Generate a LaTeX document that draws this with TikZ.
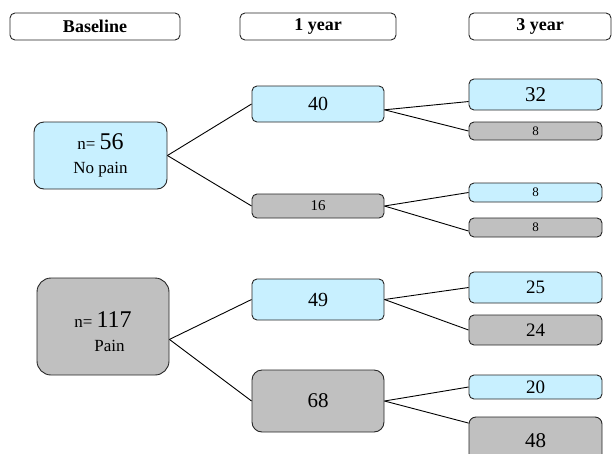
\documentclass[tikz,border=0pt]{standalone}
\usepackage{fontspec}
\setmainfont{Liberation Serif}
\definecolor{cyanfill}{RGB}{200,240,255}
\definecolor{grayfill}{RGB}{192,192,192}
\newcommand{\fs}[1]{\fontsize{#1}{#1}\selectfont}
\begin{document}
\begin{tikzpicture}[x=1pt,y=-1pt,
  box/.style={draw=black!85, line width=0.9pt, rounded corners=5pt, inner sep=0pt, anchor=center, align=center},
  cyanbox/.style={box, fill=cyanfill},
  graybox/.style={box, fill=grayfill},
  head/.style={box, fill=white, font=\bfseries\fs{18}},
  twoline/.style={align=center, font=\fontsize{17}{24}\selectfont},
  link/.style={draw=black, line width=0.9pt}]
\useasboundingbox (0,0) rectangle (613,453);
\clip (0,0) rectangle (613,453);

% headers
\node[head, minimum width=170pt, minimum height=27pt] (hb) at (95,26.5) {Baseline};
\node[head, minimum width=156pt, minimum height=27pt] (h1) at (318,26.5) {1 year};
\node[head, minimum width=142pt, minimum height=27pt] (h3) at (540,26.5) {3 year};

% baseline
\node[cyanbox, twoline, rounded corners=10pt, minimum width=133pt, minimum height=67pt] (nopain) at (100.5,155.5)
  {{\fontsize{17}{24}\selectfont n= }{\fontsize{24}{24}\selectfont 56}\\No pain};
\node[graybox, rounded corners=14pt, minimum width=132pt, minimum height=97pt,
  label={[twoline, yshift=-5pt, inner sep=0pt]center:{{\fontsize{17}{23}\selectfont n= }{\fontsize{24}{23}\selectfont 117}\\\hspace*{13pt}Pain}}] (pain) at (103,326.5) {};

% 1 year
\node[cyanbox, minimum width=132pt, minimum height=36pt, font=\fs{20}] (n40) at (318,104) {40};
\node[graybox, minimum width=132pt, minimum height=24pt, font=\fs{15}] (n16) at (318,206) {16};
\node[cyanbox, minimum width=132pt, minimum height=41pt, font=\fs{20}] (n49) at (318,299.5) {49};
\node[graybox, rounded corners=10pt, minimum width=132pt, minimum height=62pt, font=\fs{21}] (n68) at (318,401) {68};

% 3 year
\node[cyanbox, minimum width=133pt, minimum height=31pt, font=\fs{21}] (n32) at (535.5,94.5) {32};
\node[graybox, minimum width=133pt, minimum height=18pt, font=\fs{13}] (n8a) at (535.5,131) {8};
\node[cyanbox, minimum width=133pt, minimum height=19pt, font=\fs{13}] (n8b) at (535.5,192.5) {8};
\node[graybox, minimum width=133pt, minimum height=19pt, font=\fs{13}] (n8c) at (535.5,227.5) {8};
\node[cyanbox, minimum width=133pt, minimum height=31pt, font=\fs{19}] (n25) at (535.5,287.5) {25};
\node[graybox, minimum width=133pt, minimum height=30pt, font=\fs{19}] (n24) at (535.5,330) {24};
\node[cyanbox, minimum width=133pt, minimum height=24pt, font=\fs{19}] (n20) at (535.5,387) {20};
\node[graybox, rounded corners=7pt, minimum width=133pt, minimum height=48pt, font=\fs{21}] (n48) at (535.5,441) {48};

% connectors
\draw[link] (nopain.east) -- (n40.west);
\draw[link] (nopain.east) -- (n16.west);
\draw[link] (pain.-11) -- (n49.west);
\draw[link] (pain.-11) -- (n68.west);
\draw[link] (n40.-5) -- (n32.186);
\draw[link] (n40.-5) -- (n8a.west);
\draw[link] (n16.east) -- (n8b.west);
\draw[link] (n16.east) -- (n8c.183);
\draw[link] (n49.east) -- (n25.west);
\draw[link] (n49.east) -- (n24.west);
\draw[link] (n68.east) -- (n20.west);
\draw[link] (n68.east) -- (n48.165);
\end{tikzpicture}
\end{document}
